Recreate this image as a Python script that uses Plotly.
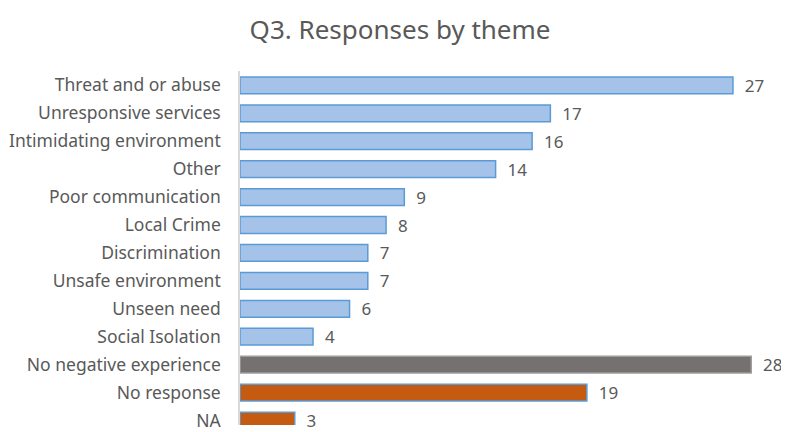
import plotly.graph_objects as go

categories = ["Threat and or abuse", "Unresponsive services", "Intimidating environment", "Other",
              "Poor communication", "Local Crime", "Discrimination", "Unsafe environment",
              "Unseen need", "Social Isolation", "No negative experience", "No response", "NA"]
values = [27, 17, 16, 14, 9, 8, 7, 7, 6, 4, 28, 19, 3]
fill_colors = ["#a5c3e9"] * 10 + ["#767171", "#c55a11", "#c55a11"]
line_colors = ["#5b9bd5"] * 10 + ["#a09c9c", "#5b9bd5", "#5b9bd5"]

FONT = "Noto Sans"
fig = go.Figure(go.Bar(
    x=values, y=categories, orientation="h",
    marker=dict(color=fill_colors, line=dict(color=line_colors, width=1.5)),
    text=values, texttemplate="  %{text}", textposition="outside",
    textfont=dict(size=17, color="#595959", family=FONT),
    constraintext="none",
    cliponaxis=False,
))
fig.update_layout(
    width=781, height=424,
    margin=dict(l=232, r=0, t=63, b=0),
    paper_bgcolor="white", plot_bgcolor="white",
    title=dict(text="Q3. Responses by theme", x=0.502, xanchor="center", y=0.948, yanchor="middle",
               font=dict(size=26, color="#595959", family=FONT)),
    bargap=0.4,
    showlegend=False,
)
fig.update_xaxes(range=[0, 30.07], visible=False)
fig.update_yaxes(categoryorder="array", categoryarray=categories, range=[12.16, -0.513],
                 showline=True, linecolor="#d9d9d9", linewidth=1.5, ticks="", ticklabelstandoff=14,
                 tickfont=dict(size=17.5, color="#595959", family=FONT), showgrid=False)
fig.write_html("out.html")
